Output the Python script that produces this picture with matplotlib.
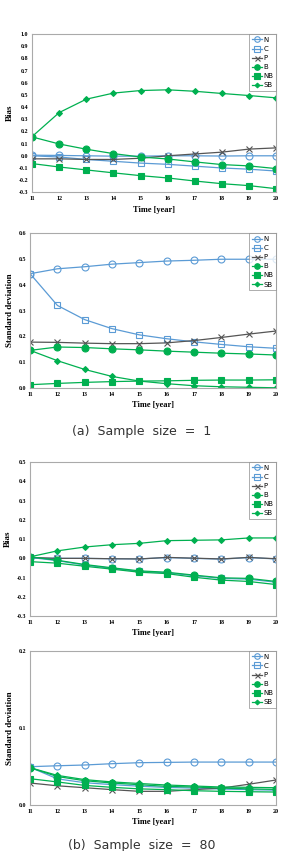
import matplotlib
matplotlib.use("Agg")
import matplotlib.pyplot as plt
import numpy as np

years = np.arange(11, 21)
labels = ["N", "C", "P", "B", "NB", "SB"]

# (a) sample size = 1
bias_1 = {
    "N": [0.005, 0.003, 0.0, -0.003, -0.003, 0.0, 0.0, -0.002, 0.0, 0.0],
    "C": [0.0, -0.01, -0.03, -0.045, -0.06, -0.07, -0.085, -0.1, -0.11, -0.125],
    "P": [-0.025, -0.025, -0.03, -0.03, -0.02, 0.0, 0.015, 0.03, 0.055, 0.065],
    "B": [0.155, 0.097, 0.054, 0.018, -0.01, -0.026, -0.05, -0.072, -0.083, -0.105],
    "NB": [-0.064, -0.092, -0.116, -0.14, -0.163, -0.182, -0.207, -0.229, -0.245, -0.27],
    "SB": [0.158, 0.355, 0.465, 0.515, 0.536, 0.542, 0.53, 0.512, 0.495, 0.476],
}
sd_1 = {
    "N": [0.443, 0.462, 0.47, 0.48, 0.486, 0.492, 0.495, 0.499, 0.499, 0.499],
    "C": [0.443, 0.32, 0.265, 0.23, 0.206, 0.191, 0.179, 0.169, 0.16, 0.154],
    "P": [0.178, 0.177, 0.174, 0.172, 0.172, 0.175, 0.184, 0.196, 0.209, 0.221],
    "B": [0.146, 0.159, 0.157, 0.152, 0.148, 0.143, 0.139, 0.135, 0.132, 0.128],
    "NB": [0.013, 0.018, 0.022, 0.025, 0.027, 0.028, 0.03, 0.031, 0.031, 0.032],
    "SB": [0.146, 0.106, 0.072, 0.045, 0.027, 0.017, 0.009, 0.005, 0.003, 0.001],
}

# (b) sample size = 80
bias_80 = {
    "N": [0.0, 0.0, 0.0, -0.002, -0.003, 0.004, 0.0, -0.004, 0.004, -0.003],
    "C": [0.005, -0.012, -0.035, -0.052, -0.068, -0.075, -0.09, -0.104, -0.108, -0.124],
    "P": [0.005, 0.0, 0.0, -0.002, -0.003, 0.005, 0.001, -0.003, 0.005, -0.002],
    "B": [0.008, -0.01, -0.032, -0.049, -0.065, -0.072, -0.087, -0.101, -0.104, -0.12],
    "NB": [-0.017, -0.025, -0.041, -0.056, -0.072, -0.079, -0.098, -0.113, -0.12, -0.136],
    "SB": [0.008, 0.039, 0.059, 0.071, 0.078, 0.092, 0.094, 0.096, 0.106, 0.106],
}
sd_80 = {
    "N": [0.0498, 0.051, 0.052, 0.0537, 0.055, 0.0554, 0.0558, 0.0558, 0.0558, 0.0558],
    "C": [0.049, 0.034, 0.029, 0.0265, 0.0245, 0.0228, 0.022, 0.0208, 0.02, 0.0193],
    "P": [0.0286, 0.025, 0.0225, 0.02, 0.0178, 0.0178, 0.02, 0.022, 0.027, 0.0325],
    "B": [0.0485, 0.037, 0.0316, 0.0286, 0.0264, 0.0242, 0.0234, 0.022, 0.021, 0.0203],
    "NB": [0.0342, 0.03, 0.0255, 0.023, 0.021, 0.02, 0.0186, 0.0178, 0.0173, 0.0169],
    "SB": [0.0485, 0.0385, 0.033, 0.03, 0.028, 0.026, 0.0247, 0.0234, 0.023, 0.0225],
}

blue = "#5b9bd5"
green = "#00b050"
grey = "#555555"
styles = {
    "N": dict(color=blue, marker="o", mfc="none", ms=5),
    "C": dict(color=blue, marker="s", mfc="none", ms=5),
    "P": dict(color=grey, marker="x", ms=4.5),
    "B": dict(color=green, marker="o", ms=5),
    "NB": dict(color=green, marker="s", ms=5),
    "SB": dict(color=green, marker="D", ms=3),
}

serif = "Liberation Serif"
fig = plt.figure(figsize=(2.84, 8.51), dpi=100)


def panel(rect, data, ylabel, ylim, yticks, fmt):
    ax = fig.add_axes(rect)
    for key in labels:
        ax.plot(years, data[key], lw=0.9, mew=0.8, label=key, **styles[key])
    ax.set_xlim(11, 20)
    ax.set_ylim(*ylim)
    ax.set_xticks(years)
    ax.set_yticks(yticks)
    ax.set_yticklabels([fmt.format(v) for v in yticks])
    ax.tick_params(length=0, labelsize=4.3, pad=3)
    for lab in ax.get_xticklabels() + ax.get_yticklabels():
        lab.set_family(serif)
        lab.set_weight("bold")
    for sp in ax.spines.values():
        sp.set_color("#aaaaaa")
        sp.set_linewidth(0.8)
    ax.set_xlabel("Time [year]", family=serif, weight="bold", fontsize=6, labelpad=3)
    ax.set_ylabel(ylabel, family=serif, weight="bold", fontsize=6.5, labelpad=3)
    leg = ax.legend(loc="upper right", fontsize=5, frameon=True, fancybox=False,
                    borderaxespad=0, handlelength=1.4, handletextpad=0.2,
                    labelspacing=0.45, borderpad=0.4, markerscale=0.8)
    leg.get_frame().set_edgecolor("#888888")
    leg.get_frame().set_linewidth(0.6)
    return ax


panel([0.113, 0.774, 0.859, 0.186], bias_1, "Bias", (-0.3, 1.0),
      np.round(np.arange(-0.3, 1.01, 0.1), 1), "{:.1f}")
panel([0.106, 0.544, 0.866, 0.182], sd_1, "Standard deviation", (0.0, 0.6),
      np.round(np.arange(0.0, 0.61, 0.1), 1), "{:.1f}")
panel([0.106, 0.276, 0.866, 0.181], bias_80, "Bias", (-0.3, 0.5),
      np.round(np.arange(-0.3, 0.51, 0.1), 1), "{:.1f}")
panel([0.106, 0.054, 0.866, 0.181], sd_80, "Standard deviation", (0.0, 0.2),
      [0.0, 0.1, 0.2], "{:.1f}")

fig.text(0.5, 1 - 432 / 851, "(a)  Sample  size  =  1", ha="center", va="center",
         fontsize=9, family="DejaVu Sans", color="#333333")
fig.text(0.5, 1 - 845 / 851, "(b)  Sample  size  =  80", ha="center", va="center",
         fontsize=9, family="DejaVu Sans", color="#333333")

fig.savefig("out.png", dpi=100)
